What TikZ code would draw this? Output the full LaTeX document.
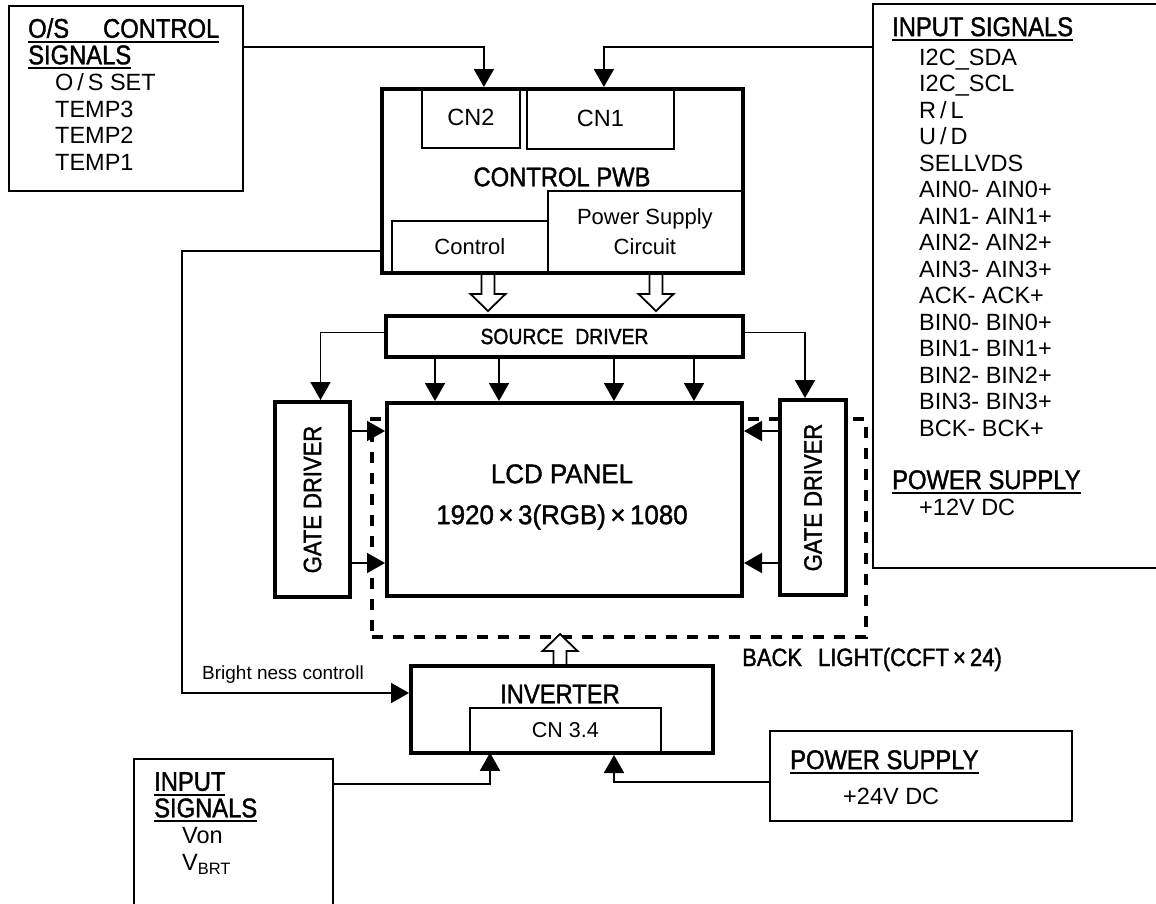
\documentclass[tikz,border=0pt]{standalone}
\usepackage{fontspec}
\setmainfont{Liberation Sans}
\newfontfamily\headfont[FakeStretch=0.88,FakeBold=1.4]{Liberation Sans}
\newfontfamily\panelfont[FakeStretch=0.96,FakeBold=1.4]{Liberation Sans}
\usetikzlibrary{arrows.meta}

\newcommand{\ulhead}[1]{\setbox0=\hbox{#1}\rlap{\rule[-5pt]{\wd0}{2pt}}\box0}
\newcommand{\sighead}[1]{{\headfont\fontsize{27}{27}\selectfont\ulhead{#1}}}

\begin{document}
\begin{tikzpicture}[x=1pt, y=-1pt,
  wire/.style={line width=1.8pt},
  sig/.style={wire, -{Triangle[length=18pt,width=20pt]}},
  thinbox/.style={draw, wire, inner sep=0pt, anchor=north west},
  part/.style={draw, wire, inner sep=0pt, anchor=north west},
  thickbox/.style={draw, line width=4pt, fill=white, inner sep=0pt, anchor=north west},
  dashbox/.style={draw, line width=4pt, dash pattern=on 11pt off 10pt, inner sep=0pt, anchor=north west},
  itemtxt/.style={font=\fontsize{23.5}{26.5}\selectfont, inner sep=0pt, align=left, anchor=north west},
  headtxt/.style={font=\headfont\fontsize{27}{27}\selectfont, inner sep=0pt},
  pics/hollow/.style={code={
    \draw[wire, fill=white] (-6.5,0) -- (-6.5,#1-17) -- (-17.5,#1-17) -- (0,#1)
      -- (17.5,#1-17) -- (6.5,#1-17) -- (6.5,0);}}
]
\useasboundingbox (0,0) rectangle (1156,903);

% Back light (dashed, behind the panel)
\node[dashbox, minimum width=494pt, minimum height=218pt] (bl) at (370,417) {};
\node[headtxt, font=\headfont\fontsize{25}{25}\selectfont, anchor=base west] (bltxt) at (742,666)
  {BACK\hspace{16pt}LIGHT(CCFT\,×\,24)};

% Hollow arrows
\pic at (488,271) {hollow=40};
\pic at (656,271) {hollow=40};
\pic[rotate=180] at (560,664) {hollow=30};

% Signal boxes
\node[thinbox, minimum width=234pt, minimum height=185pt] (osbox) at (8,5) {};
\node[itemtxt] (oslist) at (28,18) {\sighead{O/S\hspace{34pt}CONTROL}\\
  \sighead{SIGNALS}\\
  \hspace*{27pt}O\,/\,S SET\\
  \hspace*{27pt}TEMP3\\
  \hspace*{27pt}TEMP2\\
  \hspace*{27pt}TEMP1};

\node[thinbox, minimum width=400pt, minimum height=564pt] (inbox) at (872,3) {};
\node[itemtxt] (inlist) at (892,17) {\sighead{INPUT SIGNALS}\\[2.5pt]
  \hspace*{27pt}I2C\_SDA\\
  \hspace*{27pt}I2C\_SCL\\
  \hspace*{27pt}R\,/\,L\\
  \hspace*{27pt}U\,/\,D\\
  \hspace*{27pt}SELLVDS\\
  \hspace*{27pt}AIN0-\ AIN0+\\
  \hspace*{27pt}AIN1-\ AIN1+\\
  \hspace*{27pt}AIN2-\ AIN2+\\
  \hspace*{27pt}AIN3-\ AIN3+\\
  \hspace*{27pt}ACK-\ ACK+\\
  \hspace*{27pt}BIN0-\ BIN0+\\
  \hspace*{27pt}BIN1-\ BIN1+\\
  \hspace*{27pt}BIN2-\ BIN2+\\
  \hspace*{27pt}BIN3-\ BIN3+\\
  \hspace*{27pt}BCK-\ BCK+\\[26.5pt]
  \sighead{POWER SUPPLY}\\
  \hspace*{27pt}+12V DC};

\node[thinbox, minimum width=199pt, minimum height=200pt] (inbot) at (133,758) {};
\node[itemtxt] (botlist) at (154,772) {\sighead{INPUT}\\
  \sighead{SIGNALS}\\
  \hspace*{28pt}Von\\
  \hspace*{28pt}V\textsubscript{BRT}};

\node[thinbox, minimum width=302pt, minimum height=90pt] (pwr) at (769,730) {};
\node[itemtxt] (pwrlist) at (790,750) {\sighead{POWER SUPPLY}\\[8.5pt]
  \hspace*{53pt}+24V DC};

% Control PWB
\node[thickbox, minimum width=361pt, minimum height=184pt] (ctrl) at (380,87) {};
\node[part, minimum width=98pt, minimum height=60pt, font=\fontsize{23.5}{23.5}\selectfont] (cn2) at (421,87) {CN2};
\node[part, minimum width=147pt, minimum height=61pt, font=\fontsize{23.5}{23.5}\selectfont] (cn1) at (526,87) {CN1};
\node[headtxt] (pwbtxt) at (562,177) {CONTROL PWB};
\node[part, minimum width=194pt, minimum height=81pt, align=center, font=\fontsize{22}{30}\selectfont] (psc) at (547,190) {Power Supply\\Circuit};
\node[part, minimum width=156pt, minimum height=51pt, font=\fontsize{22}{22}\selectfont] (ctl) at (391,220) {Control};

% Source driver
\node[thickbox, minimum width=357pt, minimum height=41pt, font=\headfont\fontsize{22}{22}\selectfont] (src) at (384,314) {SOURCE\hspace{12pt}DRIVER};

% LCD panel
\node[thickbox, minimum width=355pt, minimum height=193pt] (lcd) at (385,401) {};
\node[headtxt, align=center, font=\panelfont\fontsize{27}{41}\selectfont] (lcdtxt) at (562,497)
  {LCD PANEL\\1920\,×\,3(RGB)\,×\,1080};

% Gate drivers
\node[thickbox, minimum width=75pt, minimum height=195pt] (gl) at (273,400) {};
\node[headtxt, font=\headfont\fontsize{25}{25}\selectfont, rotate=90] (gltxt) at (gl.center) {GATE DRIVER};
\node[thickbox, minimum width=66pt, minimum height=195pt] (gr) at (778,398) {};
\node[headtxt, font=\headfont\fontsize{25}{25}\selectfont, rotate=90] (grtxt) at (gr.center) {GATE DRIVER};

% Inverter
\node[thickbox, minimum width=302pt, minimum height=87pt] (inv) at (409,664) {};
\node[headtxt] (invtxt) at (560,694) {INVERTER};
\node[part, minimum width=191pt, minimum height=44pt, font=\fontsize{21.5}{21.5}\selectfont] (cn34) at (469,707) {CN 3.4};

% Signal lines
\draw[sig] (osbox.east |- 0,47) -| ([xshift=13pt]cn2.north);
\draw[sig] (inbox.west |- 0,47) -| ([xshift=3.5pt]cn1.north);
\draw[sig] ([yshift=4pt]src.west) -| ([xshift=8pt]gl.north);
\draw[sig] ([yshift=4pt]src.east) -| ([xshift=-8pt]gr.north);
\foreach \x in {435,499,614,694}
  \draw[sig] (src.south -| \x,0) -- (lcd.north -| \x,0);
\foreach \y in {431,563} {
  \draw[sig] (gl.east |- 0,\y) -- (lcd.west |- 0,\y);
  \draw[sig] (gr.west |- 0,\y) -- (lcd.east |- 0,\y);
}

% Brightness control
\coordinate (bnc) at (182,693);
\draw[sig] (ctrl.west |- 0,251) -| (bnc) -- (inv.west |- bnc);
\node[font=\fontsize{19}{19}\selectfont, anchor=base west, inner sep=0pt] (bnctxt) at (202,679) {Bright ness controll};

% Inverter inputs
\draw[sig] (inbot.east |- 0,784) -| (cn34.south -| 490,0);
\draw[sig] (pwr.west |- 0,782) -| (inv.south -| 614,0);

\end{tikzpicture}
\end{document}
